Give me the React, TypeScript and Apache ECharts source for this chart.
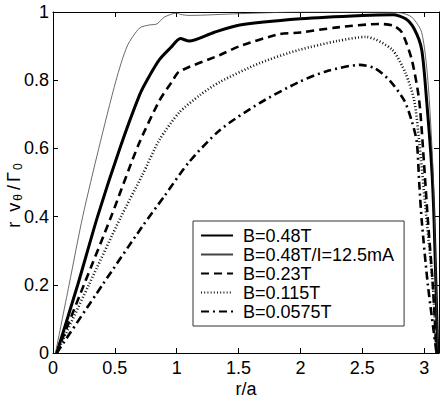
import React, { useEffect, useRef } from "react";
import * as echarts from "echarts";

const seriesNames = ["B=0.48T", "B=0.48T/I=12.5mA", "B=0.23T", "B=0.115T", "B=0.0575T"];

const thick048: number[][] = [
  [0.03, 0], [0.2, 0.2], [0.36, 0.4], [0.54, 0.6], [0.7, 0.757],
  [0.76, 0.8], [0.86, 0.86], [0.95, 0.895], [1.03, 0.922], [1.1, 0.915], [1.3, 0.94],
  [1.51, 0.962], [2.0, 0.98], [2.5, 0.99], [2.75, 0.992], [2.85, 0.98], [2.92, 0.95], [2.98, 0.89],
  [3.02, 0.74], [3.06, 0.55], [3.08, 0.39], [3.11, 0],
];

const thin048: number[][] = [
  [0.02, 0], [0.13, 0.2], [0.24, 0.4], [0.37, 0.6], [0.51, 0.8], [0.6, 0.9],
  [0.7, 0.953], [0.78, 0.962], [0.84, 0.965], [0.9, 0.985], [1.0, 0.997], [1.03, 0.993],
  [1.1, 0.99], [1.5, 0.995], [2.0, 1.0], [2.5, 1.0], [2.8, 0.998], [2.9, 0.985],
  [2.98, 0.94], [3.03, 0.8], [3.07, 0.55], [3.09, 0.3], [3.11, 0],
];

const dashed023: number[][] = [
  [0.03, 0], [0.25, 0.2], [0.47, 0.4], [0.69, 0.61], [0.86, 0.74], [0.96, 0.795],
  [1.02, 0.825], [1.35, 0.874], [1.51, 0.9], [1.83, 0.935], [2.0, 0.94], [2.3, 0.955],
  [2.64, 0.965], [2.75, 0.96], [2.82, 0.94], [2.9, 0.86], [2.96, 0.74], [3.0, 0.55],
  [3.03, 0.39], [3.07, 0.2], [3.1, 0],
];

const dotted0115: number[][] = [
  [0.03, 0], [0.29, 0.2], [0.55, 0.4], [0.72, 0.52], [0.86, 0.625], [1.02, 0.705],
  [1.19, 0.757], [1.35, 0.795], [1.67, 0.85], [1.99, 0.889], [2.3, 0.915], [2.53, 0.927],
  [2.74, 0.89], [2.85, 0.82], [2.92, 0.74], [2.96, 0.62], [3.02, 0.39], [3.07, 0.2], [3.1, 0],
];

const dashdot00575: number[][] = [
  [0.03, 0], [0.4, 0.2], [0.72, 0.37], [0.9, 0.46], [1.1, 0.56],
  [1.35, 0.654], [1.67, 0.733], [1.99, 0.795], [2.2, 0.825], [2.48, 0.845], [2.6, 0.835],
  [2.72, 0.8], [2.84, 0.74], [2.9, 0.68], [2.94, 0.62], [2.96, 0.5], [2.98, 0.39],
  [3.03, 0.2], [3.1, 0],
];

const xTickInterval = 0.5;
const yTickInterval = 0.2;

const FONT = "Liberation Sans, Arial, Helvetica, sans-serif";

export default function App() {
  const ref = useRef<HTMLDivElement>(null);

  useEffect(() => {
    if (!ref.current) return;
    const chart = echarts.init(ref.current, undefined, { renderer: "svg" });

    const baseX = {
      type: "value" as const,
      min: 0,
      max: 3.12,
      interval: xTickInterval,
      splitLine: { show: false },
      axisLine: { show: true, onZero: false, lineStyle: { color: "#000", width: 1 } },
      axisTick: { show: true, inside: true, length: 5, lineStyle: { color: "#000" } },
    };
    const baseY = {
      type: "value" as const,
      min: 0,
      max: 1,
      interval: yTickInterval,
      splitLine: { show: false },
      axisLine: { show: true, onZero: false, lineStyle: { color: "#000", width: 1 } },
      axisTick: { show: true, inside: true, length: 5, lineStyle: { color: "#000" } },
    };

    const mk = (name: string, data: number[][], lineStyle: any) => ({
      name,
      type: "line",
      data,
      showSymbol: false,
      symbol: "none",
      smooth: 0.25,
      lineStyle,
      itemStyle: { color: lineStyle.color },
      xAxisIndex: 0,
      yAxisIndex: 0,
    });

    chart.setOption({
      animation: false,
      backgroundColor: "#fff",
      textStyle: { fontFamily: FONT },
      grid: { left: 53, top: 12, right: 5, bottom: 46, containLabel: false, outerBoundsMode: "none" },
      xAxis: [
        {
          ...baseX,
          position: "bottom",
          name: "r/a",
          nameLocation: "middle",
          nameGap: 27,
          nameMoveOverlap: false,
          nameTextStyle: { fontSize: 18, color: "#000", fontFamily: FONT, lineHeight: 18 },
          axisLabel: { fontSize: 18, color: "#000", margin: 6, showMaxLabel: false, fontFamily: FONT },
        },
        { ...baseX, position: "top", axisLabel: { show: false } },
      ],
      yAxis: [
        {
          ...baseY,
          position: "left",
          name: "r  v{s|θ}{m|/}Γ{e|0}",
          nameLocation: "middle",
          nameGap: 29,
          nameMoveOverlap: false,
          nameTextStyle: {
            fontSize: 18,
            color: "#000",
            fontFamily: FONT,
            rich: {
              s: { fontSize: 12, color: "#000", fontFamily: FONT, padding: [8, 3, 0, 2], verticalAlign: "bottom" },
              m: { fontSize: 18, color: "#000", fontFamily: FONT, padding: [0, 3, 0, 1] },
              e: { fontSize: 12, color: "#000", fontFamily: FONT, padding: [8, 26, 0, 2], verticalAlign: "bottom" },
            },
          },
          axisLabel: { fontSize: 18, color: "#000", margin: 4, fontFamily: FONT },
        },
        { ...baseY, position: "right", axisLabel: { show: false } },
      ],
      legend: {
        show: true,
        orient: "vertical",
        left: 193,
        top: 221,
        padding: [5, 10, 5, 7],
        itemGap: 0,
        itemWidth: 32,
        itemHeight: 12,
        backgroundColor: "#fff",
        borderColor: "#333",
        borderWidth: 1,
        borderRadius: 0,
        itemStyle: { color: "transparent", borderColor: "transparent", borderWidth: 0, opacity: 0 },
        textStyle: { fontSize: 18, color: "#000", fontFamily: FONT, lineHeight: 19, padding: [0, 0, 0, 5] },
        data: seriesNames,
      },
      series: [
        mk(seriesNames[0], thick048, { color: "#000", width: 3, type: "solid" }),
        mk(seriesNames[1], thin048, { color: "#444", width: 0.8, type: "solid" }),
        mk(seriesNames[2], dashed023, { color: "#000", width: 2.6, type: [8, 5] }),
        mk(seriesNames[3], dotted0115, { color: "#111", width: 2.6, type: [1, 2.2] }),
        mk(seriesNames[4], dashdot00575, { color: "#000", width: 2.6, type: [8, 4, 2, 4] }),
      ],
    });

    return () => chart.dispose();
  }, []);

  return <div ref={ref} style={{ width: 444, height: 399, position: "absolute", left: 0, top: 0 }} />;
}
